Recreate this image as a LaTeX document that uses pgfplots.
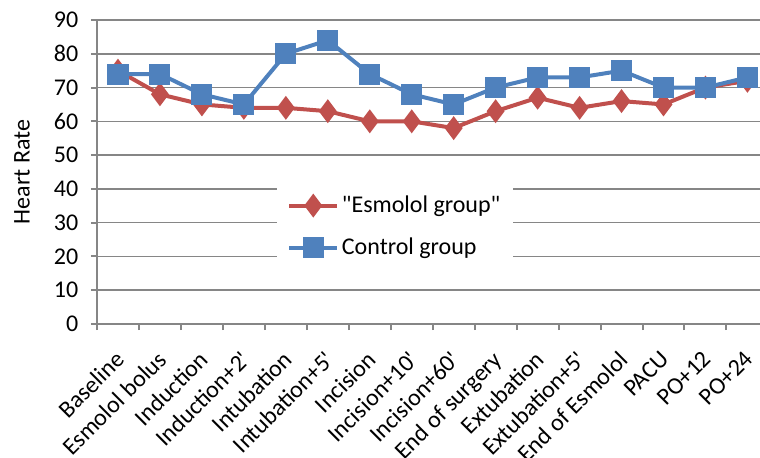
\documentclass[border=0pt]{standalone}
\usepackage{pgfplots}
\pgfplotsset{compat=1.18}
\usepackage{fontspec}
\setmainfont{Carlito}[Ligatures=TeXOff]
\definecolor{esm}{HTML}{C0504D}
\definecolor{ctl}{HTML}{4F81BD}
\definecolor{gridgray}{HTML}{868686}
\begin{document}
\begin{tikzpicture}
\begin{axis}[
    scale only axis,
    width=497.25pt, height=228pt,
    xmin=0.5, xmax=16.3,
    ymin=0, ymax=90,
    ytick distance=10,
    xtick={1,...,16},
    xticklabels={Baseline, Esmolol bolus, Induction, Induction+2', Intubation, Intubation+5', Incision, Incision+10', Incision+60', End of surgery, Extubation, Extubation+5', End of Esmolol, PACU, PO+12, PO+24},
    minor xtick={0.5,1.5,...,16.5},
    major x tick style={draw=none},
    minor x tick style={gridgray, line width=1.5pt},
    y tick style={gridgray, line width=1.5pt},
    tick align=outside,
    major tick length=4.5pt, minor tick length=4.5pt,
    axis x line*=bottom, axis y line*=left,
    axis line style={gridgray, line width=1.5pt, -},
    ymajorgrids,
    major grid style={gridgray, line width=1.1pt},
    font=\fontsize{18}{21.6}\selectfont,
    /pgf/number format/assume math mode=true,
    yticklabel style={anchor=east, xshift=-6pt},
    xticklabel style={xshift=-3pt, yshift=-14.5pt, rotate=45, anchor=north east, inner sep=0pt},
    ylabel={Heart Rate},
    ylabel style={anchor=center, at={(rel axis cs:-0.1131,0.5)}},
    legend style={at={(rel axis cs:0.2715,0.5)}, anchor=north west, draw=none, fill=white,
        inner xsep=7.5pt, inner ysep=16pt, row sep=13.5pt, font=\fontsize{18}{21.6}\selectfont},
    legend cell align=left,
    legend image code/.code={\draw[mark repeat=2, mark phase=2, #1] plot coordinates {(0pt,0pt) (18pt,0pt) (36pt,0pt)};},
]
\addplot[esm, line width=3pt, mark=diamond*, mark size=6.5pt, mark options={solid}] coordinates {
(1,75) (2,68) (3,65) (4,64) (5,64) (6,63) (7,60) (8,60) (9,58) (10,63) (11,67) (12,64) (13,66) (14,65) (15,70) (16,72)
};
\addlegendentry{"Esmolol group"}
\addplot[ctl, line width=3pt, mark=square*, mark size=6.4pt, mark options={solid}] coordinates {
(1,74) (2,74) (3,68) (4,65) (5,80) (6,84) (7,74) (8,68) (9,65) (10,70) (11,73) (12,73) (13,75) (14,70) (15,70) (16,73)
};
\addlegendentry{Control group}
\end{axis}
\pgfresetboundingbox
\path[use as bounding box] (-72.75pt,-99.75pt) rectangle (497.25pt,243pt);
\end{tikzpicture}
\end{document}
